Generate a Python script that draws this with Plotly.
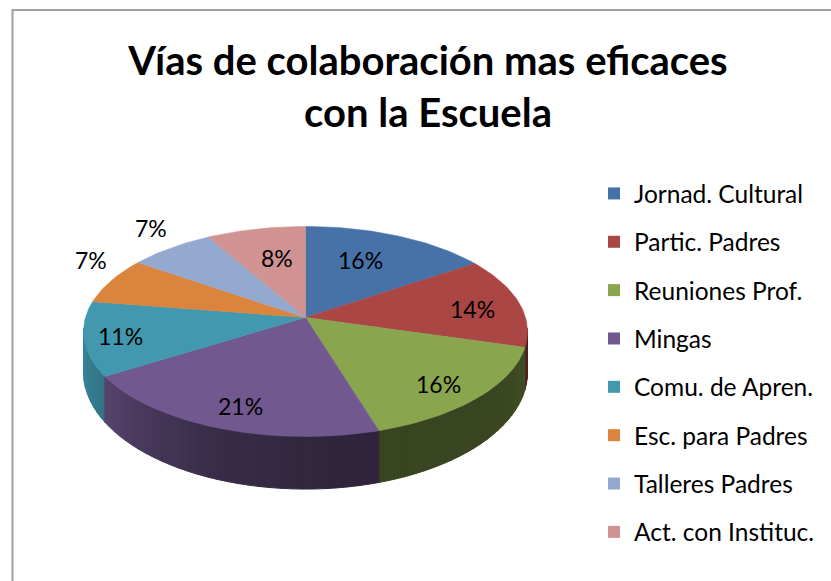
import math
import plotly.graph_objects as go

title_lines = ["Vías de colaboración mas eficaces", "con la Escuela"]
categories = ["Jornad. Cultural", "Partic. Padres", "Reuniones Prof.", "Mingas",
              "Comu. de Apren.", "Esc. para Padres", "Talleres Padres", "Act. con Instituc."]
values = [15.5, 14.0, 15.8, 20.8, 11.4, 7.2, 7.1, 8.2]
colors = ["#4672A8", "#AA4643", "#89A54E", "#71588F", "#4198AF", "#DB843D", "#93A9CF", "#D19392"]

# Layout of the drawing (pixels of the 831x581 page)
CX, CY, A, B, K = 305.5, 317.5, 220.0, 103.2, 0.133
DEPTH = 39.5
label_xy = [(360, 260), (472, 309), (438, 384), (240, 406), (120, 336), (91, 260), (151, 228), (277, 258)]
shade_angle = [90, 130, 170, 200, 240, 270]
shade_value = [0.50, 0.42, 0.42, 0.50, 0.78, 0.92]


def project(theta):
    u, v = math.sin(theta), math.cos(theta)
    w = 1 + K * v
    return CX + A * u / w, CY - B * v / w, w


def shade(deg):
    for i in range(len(shade_angle) - 1):
        if shade_angle[i] <= deg <= shade_angle[i + 1]:
            t = (deg - shade_angle[i]) / (shade_angle[i + 1] - shade_angle[i])
            return shade_value[i] + t * (shade_value[i + 1] - shade_value[i])
    return shade_value[0] if deg < 90 else shade_value[-1]


def scaled(hex_color, f):
    r, g, b = (int(hex_color[i:i + 2], 16) for i in (1, 3, 5))
    return f"rgb({int(r * f)},{int(g * f)},{int(b * f)})"


total = sum(values)
edges = [0.0]
for val in values:
    edges.append(edges[-1] + val / total * 360)

fig = go.Figure()

# Side wall, back-to-front from both ends towards the front
quads = []
for i in range(len(values)):
    start, end = max(edges[i], 96), min(edges[i + 1], 264)
    d = start
    while d < end:
        n = min(d + 2.5, end)
        quads.append((d, n, i))
        d = n
quads.sort(key=lambda q: abs((q[0] + q[1]) / 2 - 180), reverse=True)
for d0, d1, i in quads:
    xs, ys = [], []
    steps = [d0, d1]
    for d in steps:
        x, y, _ = project(math.radians(d))
        xs.append(x)
        ys.append(y)
    for d in reversed(steps):
        x, y, w = project(math.radians(d))
        xs.append(x)
        ys.append(y + DEPTH / (w * w))
    col = scaled(colors[i], shade((d0 + d1) / 2))
    fig.add_trace(go.Scatter(x=xs + xs[:1], y=ys + ys[:1], mode="lines", fill="toself",
                             fillcolor=col, line=dict(color=col, width=1),
                             hoverinfo="skip", showlegend=False))

# Top face
for i, name in enumerate(categories):
    n = max(2, int((edges[i + 1] - edges[i]) / 1.5))
    xs, ys = [CX], [CY]
    for j in range(n + 1):
        x, y, _ = project(math.radians(edges[i] + (edges[i + 1] - edges[i]) * j / n))
        xs.append(x)
        ys.append(y)
    xs.append(CX)
    ys.append(CY)
    fig.add_trace(go.Scatter(x=xs, y=ys, mode="lines", fill="toself", fillcolor=colors[i],
                             line=dict(color=colors[i], width=0.5), name=name,
                             hoverinfo="name", showlegend=False))

# Legend entries
for i, name in enumerate(categories):
    fig.add_trace(go.Scatter(x=[None], y=[None], mode="markers", name=name, legendgroup=name,
                             marker=dict(symbol="square", size=15, color=colors[i])))

# Percent labels
for val, (x, y) in zip(values, label_xy):
    fig.add_annotation(x=x, y=y, xref="x", yref="y", text=f"{round(val)}%", showarrow=False,
                       font=dict(family="Lato", size=23, color="#000000"))

# Chart frame
fig.add_shape(type="rect", xref="x", yref="y", x0=12.5, y0=10, x1=860, y1=620,
              line=dict(color="#A0A0A0", width=2), layer="below")

fig.update_layout(
    width=831, height=581, margin=dict(l=0, r=0, t=0, b=0),
    autosize=False,
    paper_bgcolor="white", plot_bgcolor="white",
    title=dict(text="<br>".join(title_lines), x=428 / 831, xanchor="center",
               y=1 - 75 / 581, yanchor="top",
               font=dict(family="Lato", size=40, color="#000000", weight="bold")),
    xaxis=dict(range=[0, 831], visible=False, fixedrange=True),
    yaxis=dict(range=[581, 0], visible=False, fixedrange=True),
    legend=dict(x=594 / 831, y=1 - 171 / 581, xanchor="left", yanchor="top",
                font=dict(family="Lato", size=24.5, color="#000000"),
                tracegroupgap=13.5, itemsizing="constant", bgcolor="rgba(0,0,0,0)"),
)
fig.write_html("out.html", config={"displayModeBar": False},
               post_script="document.body.style.margin='0';")
